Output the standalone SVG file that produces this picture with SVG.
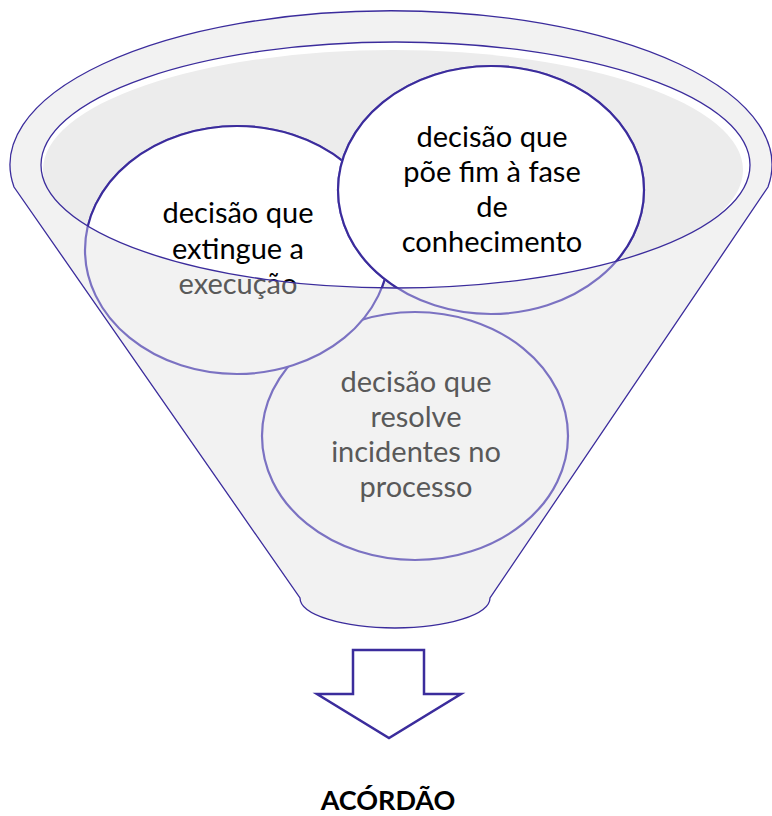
<svg xmlns="http://www.w3.org/2000/svg" width="772" height="816" viewBox="0 0 772 816">
<defs>
<clipPath id="innerClip"><ellipse cx="395.5" cy="165" rx="354.5" ry="123"/></clipPath>
<style>
.back ellipse{fill:#f2f2f2;stroke:#7b72c2;stroke-width:2.2}
.back text{fill:#595959}
.front ellipse{fill:#ffffff;stroke:#3b2c9c;stroke-width:2.2}
.front text{fill:#000000}
text{font-family:Lato,"Open Sans","Liberation Sans",sans-serif;font-size:29px;text-anchor:middle}
.line{fill:none;stroke:#3b2c9c;stroke-width:1.3}
</style>
</defs>
<rect width="772" height="816" fill="#ffffff"/>
<g id="funnel">
<path d="M14,187 A381,154 0 1 1 768,187 L490,598 A95,30 0 0 1 300,598 Z" fill="#f2f2f2" stroke="#3b2c9c" stroke-width="1.3"/>
<g clip-path="url(#innerClip)">
<ellipse cx="395.5" cy="165" rx="354.5" ry="123" fill="#ffffff"/>
<ellipse cx="393" cy="170" rx="350" ry="120" fill="#ececec"/>
</g>
</g>
<g id="node-incidentes" class="back">
<ellipse cx="415" cy="436" rx="153" ry="124"/>
<text x="416" y="392">decisão que</text>
<text x="416" y="427">resolve</text>
<text x="416" y="462">incidentes no</text>
<text x="416" y="497">processo</text>
</g>
<g id="node-execucao">
<g class="back">
<ellipse cx="237" cy="250" rx="152" ry="124"/>
<text x="238" y="223">decisão que</text>
<text x="238" y="259">extingue a</text>
<text x="238" y="294">execução</text>
</g>
<g class="front" clip-path="url(#innerClip)">
<ellipse cx="237" cy="250" rx="152" ry="124"/>
<text x="238" y="223">decisão que</text>
<text x="238" y="259">extingue a</text>
<text x="238" y="294">execução</text>
</g>
</g>
<g id="node-conhecimento">
<g class="back">
<ellipse cx="491" cy="190" rx="153" ry="124"/>
<text x="492" y="147">decisão que</text>
<text x="492" y="182">põe fim à fase</text>
<text x="492" y="217">de</text>
<text x="492" y="252">conhecimento</text>
</g>
<g class="front" clip-path="url(#innerClip)">
<ellipse cx="491" cy="190" rx="153" ry="124"/>
<text x="492" y="147">decisão que</text>
<text x="492" y="182">põe fim à fase</text>
<text x="492" y="217">de</text>
<text x="492" y="252">conhecimento</text>
</g>
</g>
<g id="rim">
<ellipse class="line" cx="395.5" cy="165" rx="354.5" ry="123"/>
</g>
<g id="arrow">
<path d="M353,650 H424 V694 H461 L389,738 L317,694 H353 Z" fill="#ffffff" stroke="#3b2c9c" stroke-width="2.5" stroke-linejoin="miter"/>
</g>
<g id="result">
<text x="388" y="810" style="font-weight:bold;font-size:27px">ACÓRDÃO</text>
</g>
</svg>
